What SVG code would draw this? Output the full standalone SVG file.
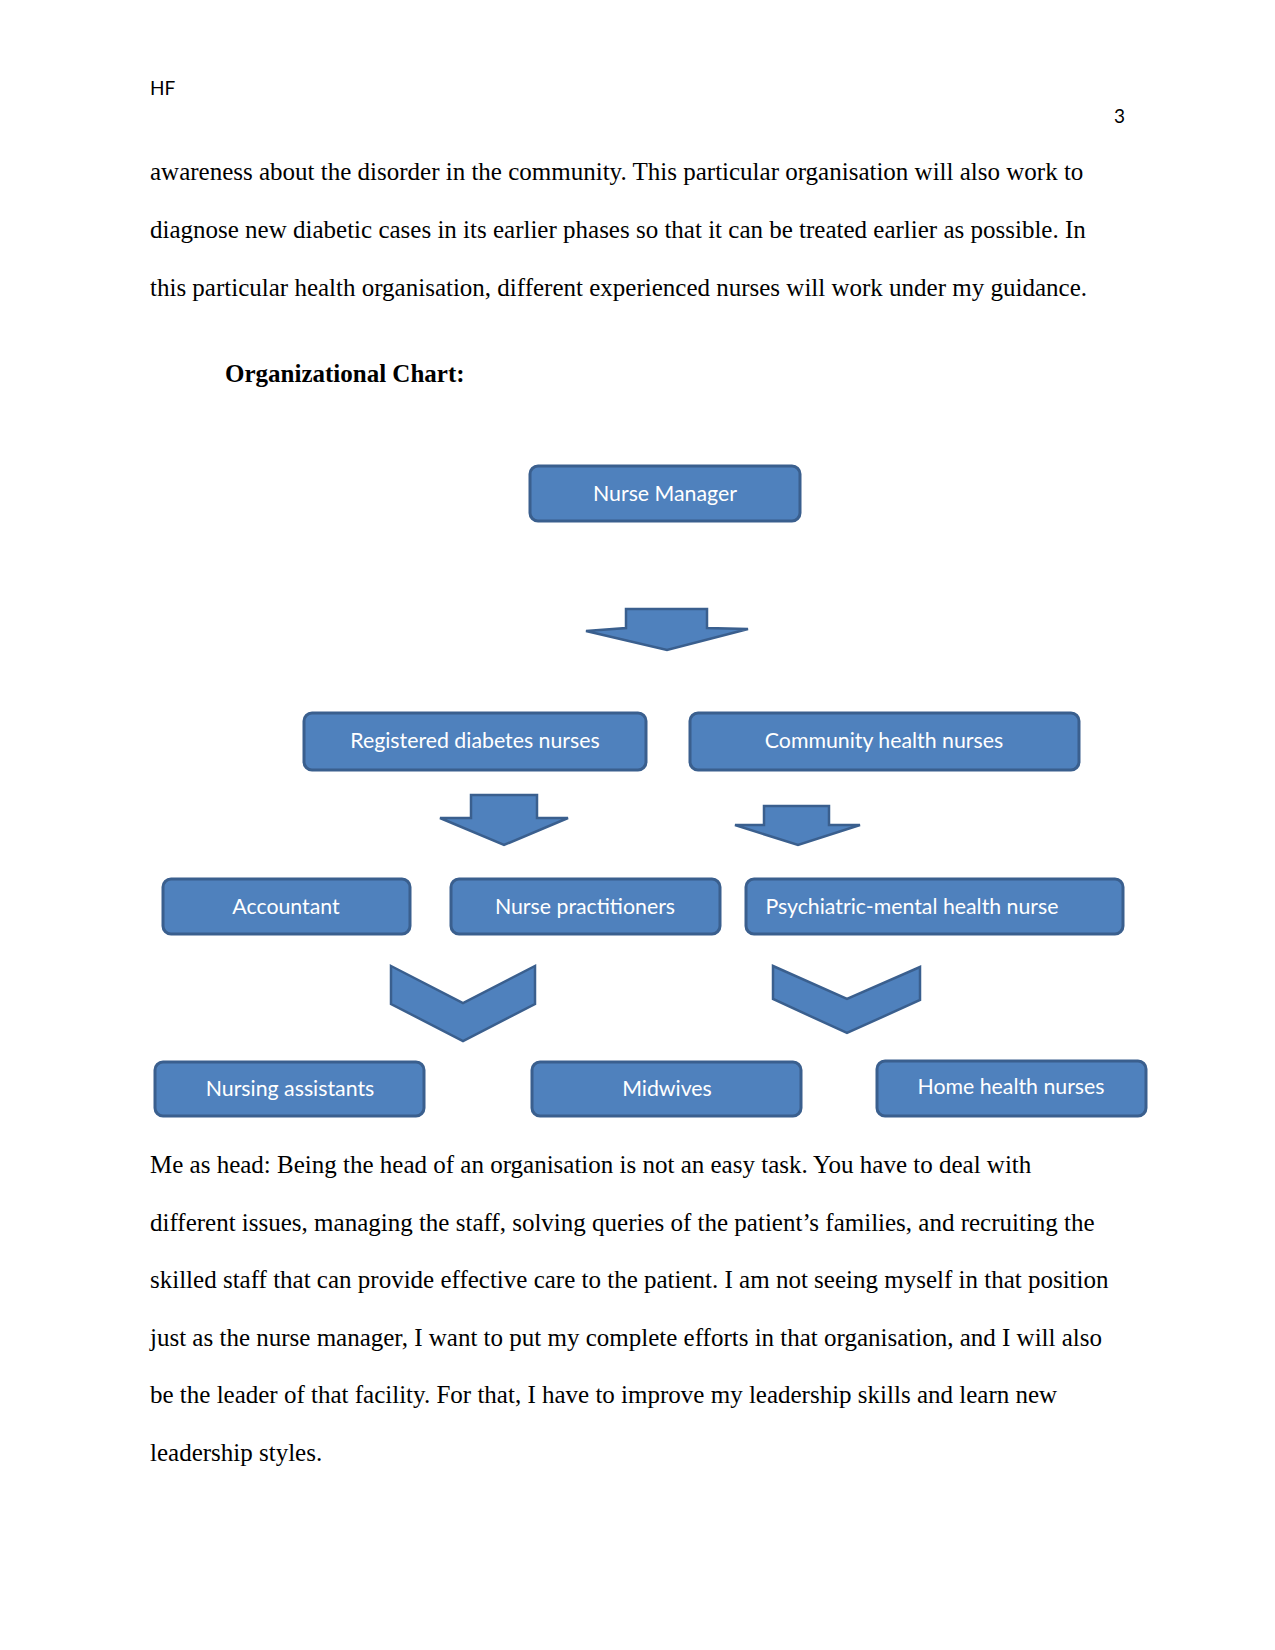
<svg xmlns="http://www.w3.org/2000/svg" width="1275" height="1650" viewBox="0 0 1275 1650">
<style>
.body{font-family:"Liberation Serif","Times New Roman",serif;font-size:25px;fill:#000}
.hdr{font-family:Lato,"Liberation Sans",sans-serif;font-size:19px;fill:#000}
.box{fill:#4F81BD;stroke:#3A5F8E;stroke-width:3}
.lbl{font-family:Lato,"Liberation Sans",sans-serif;font-size:21.3px;fill:#fff;text-anchor:middle}
.arr{fill:#4F81BD;stroke:#3A5F8E;stroke-width:2.5;stroke-linejoin:miter}
</style>
<rect width="1275" height="1650" fill="#fff"/>
<text class="hdr" x="150" y="95">HF</text>
<text class="hdr" x="1114" y="123">3</text>
<text class="body" x="150" y="180">awareness about the disorder in the community. This particular organisation will also work to</text>
<text class="body" x="150" y="238">diagnose new diabetic cases in its earlier phases so that it can be treated earlier as possible. In</text>
<text class="body" x="150" y="296">this particular health organisation, different experienced nurses will work under my guidance.</text>
<text class="body" x="225" y="382" font-weight="bold">Organizational Chart:</text>

<g id="connectors">
<polygon class="arr" points="626,609 707,609 707,628 748,629 667,650 586,631 626,628"/>
<polygon class="arr" points="471,795 537,795 537,818 568,818 504,845 440,818 471,818"/>
<polygon class="arr" points="764,806 829,806 829,825 860,825 798,845 735,825 764,825"/>
<polygon class="arr" points="391,966 463,1003 535,966 535,1004 463,1041 391,1004"/>
<polygon class="arr" points="773,966 847,999 920,967 920,1000 847,1033 773,999"/>
</g>

<g id="nurse-manager"><rect class="box" x="530" y="466" width="270" height="55" rx="8"/><text class="lbl" x="665" y="501">Nurse Manager</text></g>
<g id="registered-diabetes-nurses"><rect class="box" x="304" y="713" width="342" height="57" rx="8"/><text class="lbl" x="475" y="748">Registered diabetes nurses</text></g>
<g id="community-health-nurses"><rect class="box" x="690" y="713" width="389" height="57" rx="8"/><text class="lbl" x="884" y="748">Community health nurses</text></g>
<g id="accountant"><rect class="box" x="163" y="879" width="247" height="55" rx="8"/><text class="lbl" x="286" y="914">Accountant</text></g>
<g id="nurse-practitioners"><rect class="box" x="451" y="879" width="269" height="55" rx="8"/><text class="lbl" x="585" y="914">Nurse practitioners</text></g>
<g id="psychiatric-mental-health-nurse"><rect class="box" x="746" y="879" width="377" height="55" rx="8"/><text class="lbl" x="912" y="914">Psychiatric-mental health nurse</text></g>
<g id="nursing-assistants"><rect class="box" x="155" y="1062" width="269" height="54" rx="8"/><text class="lbl" x="290" y="1096">Nursing assistants</text></g>
<g id="midwives"><rect class="box" x="532" y="1062" width="269" height="54" rx="8"/><text class="lbl" x="667" y="1096">Midwives</text></g>
<g id="home-health-nurses"><rect class="box" x="877" y="1061" width="269" height="55" rx="8"/><text class="lbl" x="1011" y="1094">Home health nurses</text></g>

<text class="body" x="150" y="1173">Me as head: Being the head of an organisation is not an easy task. You have to deal with</text>
<text class="body" x="150" y="1231">different issues, managing the staff, solving queries of the patient’s families, and recruiting the</text>
<text class="body" x="150" y="1288">skilled staff that can provide effective care to the patient. I am not seeing myself in that position</text>
<text class="body" x="150" y="1346">just as the nurse manager, I want to put my complete efforts in that organisation, and I will also</text>
<text class="body" x="150" y="1403">be the leader of that facility. For that, I have to improve my leadership skills and learn new</text>
<text class="body" x="150" y="1461">leadership styles.</text>
</svg>
